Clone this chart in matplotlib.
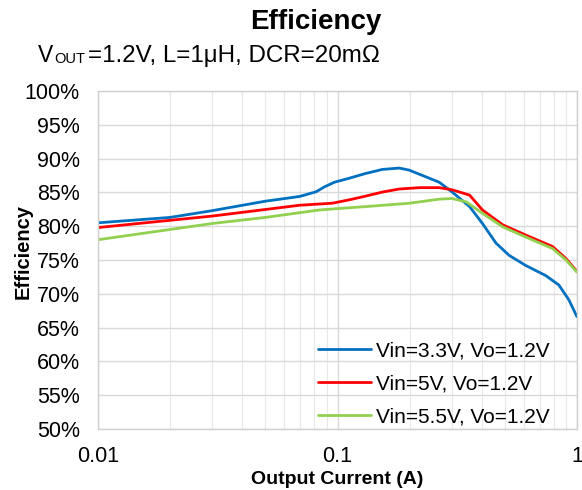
import matplotlib
matplotlib.use("Agg")
import matplotlib.pyplot as plt
from matplotlib.ticker import FixedLocator, FuncFormatter, LogLocator, NullFormatter

plt.rcParams['font.family'] = ['Liberation Sans', 'DejaVu Sans']

# Data
i_33 = [0.01, 0.02, 0.03, 0.05, 0.0695, 0.0815, 0.088, 0.097, 0.112, 0.131, 0.154, 0.181,
        0.199, 0.234, 0.266, 0.30, 0.356, 0.403, 0.459, 0.52, 0.61, 0.74, 0.84, 0.925, 1.0]
eff_33 = [80.5, 81.3, 82.3, 83.7, 84.4, 85.1, 85.8, 86.5, 87.1, 87.8, 88.4, 88.6,
          88.3, 87.3, 86.5, 85.1, 82.9, 80.4, 77.5, 75.7, 74.2, 72.7, 71.3, 69.1, 66.6]

i_50 = [0.01, 0.03, 0.0695, 0.095, 0.112, 0.131, 0.154, 0.181, 0.22, 0.266, 0.30, 0.356,
        0.403, 0.49, 0.61, 0.79, 0.90, 1.0]
eff_50 = [79.8, 81.5, 83.1, 83.4, 83.9, 84.45, 85.05, 85.5, 85.7, 85.7, 85.4, 84.6,
          82.4, 80.2, 78.7, 77.0, 75.2, 73.3]

i_55 = [0.01, 0.03, 0.05, 0.0695, 0.084, 0.1, 0.131, 0.2, 0.266, 0.30, 0.345, 0.403,
        0.49, 0.61, 0.79, 0.90, 1.0]
eff_55 = [78.0, 80.4, 81.3, 82.0, 82.4, 82.6, 82.9, 83.4, 84.0, 84.1, 83.6, 81.9,
          79.9, 78.4, 76.7, 75.0, 73.2]

labels = ["Vin=3.3V, Vo=1.2V", "Vin=5V, Vo=1.2V", "Vin=5.5V, Vo=1.2V"]
colors = ["#0070C0", "#FF0000", "#92D050"]
y_ticks = [50, 55, 60, 65, 70, 75, 80, 85, 90, 95, 100]

W, H = 582, 490
fig = plt.figure(figsize=(W/100, H/100), dpi=100)
ax = fig.add_axes([98/W, 1 - 429/H, (577-98)/W, (429-91)/H])

for x, y, c, l in zip([i_33, i_50, i_55], [eff_33, eff_50, eff_55], colors, labels):
    ax.plot(x, y, color=c, lw=2.0, label=l, solid_joinstyle='round', solid_capstyle='round')

ax.set_xscale('log')
ax.set_xlim(0.01, 1)
ax.set_ylim(50, 100)
ax.yaxis.set_major_locator(FixedLocator(y_ticks))
ax.yaxis.set_major_formatter(FuncFormatter(lambda v, p: f"{int(v)}%"))
ax.xaxis.set_major_locator(FixedLocator([0.01, 0.1, 1]))
ax.xaxis.set_major_formatter(FuncFormatter(lambda v, p: f"{v:g}"))
ax.xaxis.set_minor_locator(LogLocator(base=10, subs=range(2, 10)))
ax.xaxis.set_minor_formatter(NullFormatter())

ax.grid(True, which='major', color='#d9d9d9', lw=1.0)
ax.grid(True, which='minor', axis='x', color='#e8e8e8', lw=0.8)
ax.set_axisbelow(True)
for s in ax.spines.values():
    s.set_color('#d0d0d0')
    s.set_linewidth(1.0)
ax.tick_params(which='both', length=0, labelsize=15.5)
ax.tick_params(axis='y', pad=13)
ax.tick_params(axis='x', pad=12)

fig.text(23/W, 1 - 251/H, "Efficiency", fontsize=14.5, fontweight='bold', rotation=90,
         ha='center', va='center')
fig.text(337/W, 1 - 479/H, "Output Current (A)", fontsize=14, fontweight='bold',
         ha='center', va='center')

fig.text(316/W, 1 - 29/H, "Efficiency", fontsize=20, fontweight='bold', ha='center', va='baseline')
# subtitle: V with small "OUT" subscript-like text
fig.text(38/W, 1 - 62/H, "V", fontsize=16.5, ha='left', va='baseline')
fig.text(54/W, 1 - 63/H, "OUT", fontsize=10.5, ha='left', va='baseline')
fig.text(88/W, 1 - 62/H, "=1.2V, L=1μH, DCR=20mΩ", fontsize=17.4, ha='left', va='baseline')

leg = ax.legend(loc='upper left', bbox_to_anchor=(308/W, 1 - 331/H), bbox_transform=fig.transFigure,
                frameon=False, fontsize=15, handlelength=2.5, borderpad=0,
                handletextpad=0.25, labelspacing=0.67)

fig.savefig("out.png", dpi=100)
